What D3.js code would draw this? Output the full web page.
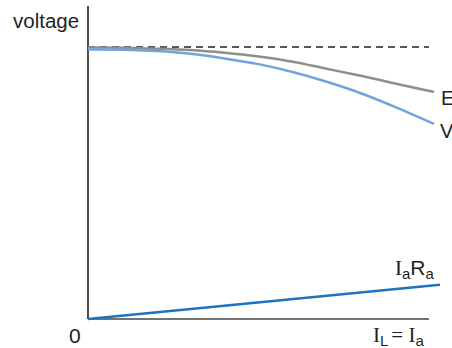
<!DOCTYPE html>
<html><head><meta charset="utf-8">
<script src="https://cdn.jsdelivr.net/npm/d3@7"></script>
<style>body{margin:0;background:#fff}svg{display:block}</style>
</head><body>
<script>
// data (current in arbitrary units, voltage in % of no-load)
const current = [0, 1, 2, 3, 4, 5, 6, 7, 8, 9, 10.15];
const emf     = [99.8, 99.7, 99.4, 98.9, 97.9, 96.5, 94.6, 92.0, 89.4, 86.6, 83.5];
const terminal= [99.1, 99.0, 98.5, 97.5, 95.8, 93.7, 90.8, 87.2, 83.0, 78.0, 71.7];
const irDrop  = [0, 12.6];
const irX     = [0, 10.32];
const noLoad  = 100;
const axisMax = [10, 100];

const W = 452, H = 348;
const svg = d3.select("body").append("svg").attr("width", W).attr("height", H);
const x = d3.scaleLinear().domain([0, axisMax[0]]).range([88, 429]);
const y = d3.scaleLinear().domain([0, axisMax[1]]).range([319, 47]);

const line = d3.line().x(d => x(d[0])).y(d => y(d[1])).curve(d3.curveMonotoneX);

// axes
svg.append("line").attr("x1", x(0)).attr("x2", x(0)).attr("y1", 6).attr("y2", y(0))
  .attr("stroke", "#222").attr("stroke-width", 1.6);
svg.append("line").attr("x1", x(0)).attr("x2", x(axisMax[0])).attr("y1", y(0)).attr("y2", y(0))
  .attr("stroke", "#444").attr("stroke-width", 1.6);

// dashed no-load
svg.append("line").attr("x1", x(0)).attr("x2", x(axisMax[0])).attr("y1", y(noLoad)).attr("y2", y(noLoad))
  .attr("stroke", "#222").attr("stroke-width", 1.3).attr("stroke-dasharray", "7,5");

svg.append("path").attr("d", line(current.map((c, i) => [c, emf[i]])))
  .attr("fill", "none").attr("stroke", "#8e8e90").attr("stroke-width", 2.5);
svg.append("path").attr("d", line(current.map((c, i) => [c, terminal[i]])))
  .attr("fill", "none").attr("stroke", "#72a3dc").attr("stroke-width", 2.5);
svg.append("path").attr("d", d3.line().x(d => x(d[0])).y(d => y(d[1]))(irX.map((c, i) => [c, irDrop[i]])))
  .attr("fill", "none").attr("stroke", "#1b74bf").attr("stroke-width", 2.5);

const sans = "Liberation Sans, Arial, sans-serif";
const serif = "Liberation Serif, Times New Roman, serif";
const ink = "#231f20";
svg.append("text").attr("x", 13).attr("y", 28).attr("font-family", sans).attr("font-size", 20.5)
  .attr("fill", ink).text("voltage");
svg.append("text").attr("x", 441).attr("y", 105).attr("font-family", sans).attr("font-size", 20)
  .attr("fill", ink).text("E");
svg.append("text").attr("x", 440).attr("y", 138).attr("font-family", sans).attr("font-size", 20)
  .attr("fill", ink).text("V");
svg.append("text").attr("x", 69).attr("y", 343).attr("font-family", sans).attr("font-size", 21)
  .attr("fill", ink).text("0");

const t1 = svg.append("text").attr("x", 373).attr("y", 342).attr("font-size", 21).attr("fill", ink);
t1.append("tspan").attr("font-family", serif).text("I");
t1.append("tspan").attr("font-family", sans).attr("font-size", 15).attr("dy", 4).text("L");
t1.append("tspan").attr("font-family", serif).attr("dy", -4).attr("dx", 3).text("= I");
t1.append("tspan").attr("font-family", sans).attr("font-size", 15).attr("dy", 4).text("a");

const t2 = svg.append("text").attr("x", 395).attr("y", 275).attr("font-size", 21).attr("fill", ink);
t2.append("tspan").attr("font-family", serif).text("I");
t2.append("tspan").attr("font-family", sans).attr("font-size", 15).attr("dy", 4).text("a");
t2.append("tspan").attr("font-family", sans).attr("dy", -4).text("R");
t2.append("tspan").attr("font-family", sans).attr("font-size", 15).attr("dy", 4).text("a");
</script>
</body></html>
